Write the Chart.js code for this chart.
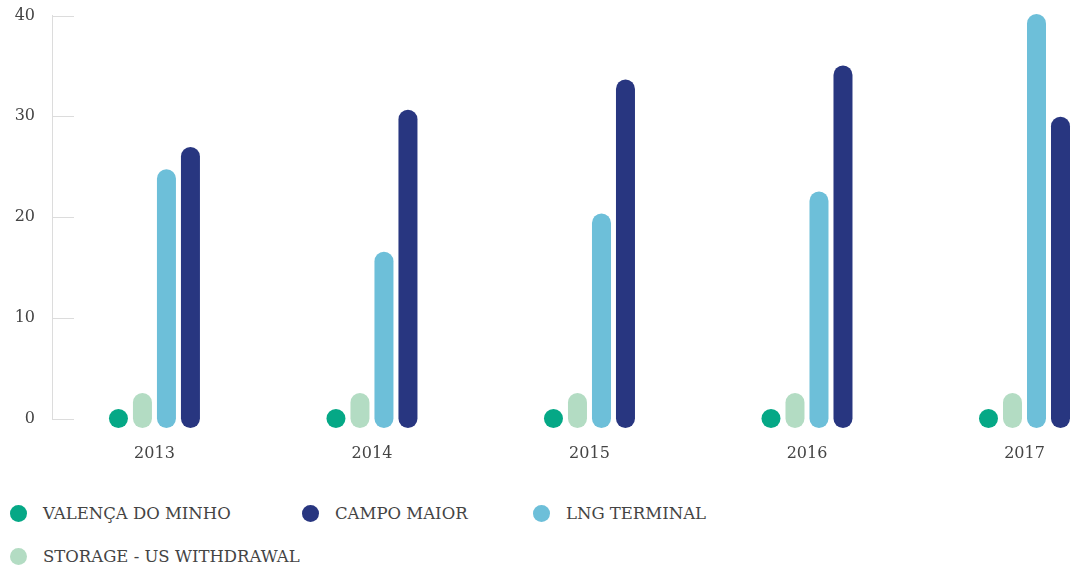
<!DOCTYPE html>
<html>
<head>
<meta charset="utf-8">
<script src="https://cdn.jsdelivr.net/npm/chart.js@4/dist/chart.umd.min.js"></script>
<style>
  html, body { margin: 0; padding: 0; background: #fff; }
  body { width: 1084px; height: 571px; overflow: hidden; font-family: "DejaVu Serif", serif; }
  #wrap { position: relative; width: 1084px; height: 470px; }
  #legend { display: flex; flex-wrap: wrap; width: 790px; margin-top: 22px; margin-left: 10px; }
  .item { display: flex; align-items: center; height: 43px; color: #444; font-size: 16.5px; }
  .dot { width: 17px; height: 17px; border-radius: 50%; margin-right: 16px; flex: none; }
</style>
</head>
<body>
<div id="wrap"><canvas id="chart"></canvas></div>
<div id="legend"></div>
<script>
const years = ['2013', '2014', '2015', '2016', '2017'];
const valenca = [0, 0, 0, 0, 0];
const storage = [1.6, 1.6, 1.6, 1.6, 1.6];
const lng = [23.8, 15.6, 19.4, 21.6, 39.2];
const campoMaior = [26.0, 29.7, 32.7, 34.1, 29.0];

const series = [
  { label: 'VALENÇA DO MINHO', values: valenca, color: '#05a886' },
  { label: 'STORAGE - US WITHDRAWAL', values: storage, color: '#b3dcc3' },
  { label: 'LNG TERMINAL', values: lng, color: '#6dbfd9' },
  { label: 'CAMPO MAIOR', values: campoMaior, color: '#283680' }
];
// order in the legend differs from the bar order
const legendOrder = [0, 3, 2, 1];
const legendWidths = [292, 231, 260, 300];

// bars drawn as thick lines with round caps
const pillBars = {
  id: 'pillBars',
  afterDatasetsDraw(chart) {
    const ctx = chart.ctx;
    ctx.save();
    ctx.lineCap = 'round';
    ctx.lineWidth = 19;
    chart.data.datasets.forEach((ds, i) => {
      const meta = chart.getDatasetMeta(i);
      ctx.strokeStyle = ds.pillColor;
      ctx.fillStyle = ds.pillColor;
      meta.data.forEach(el => {
        if (Math.abs(el.base - el.y) < 0.5) {
          ctx.beginPath();
          ctx.arc(el.x, el.base, 9.5, 0, Math.PI * 2);
          ctx.fill();
        } else {
          ctx.beginPath();
          ctx.moveTo(el.x, el.base);
          ctx.lineTo(el.x, el.y);
          ctx.stroke();
        }
      });
    });
    ctx.restore();
  }
};

// short tick marks to the right of the y axis
const yTicks = {
  id: 'yTicks',
  beforeDatasetsDraw(chart) {
    const { ctx, chartArea, scales } = chart;
    ctx.save();
    ctx.strokeStyle = '#dcdcdc';
    ctx.lineWidth = 1;
    scales.y.ticks.forEach(t => {
      const y = Math.round(scales.y.getPixelForValue(t.value)) + 0.5;
      ctx.beginPath();
      ctx.moveTo(chartArea.left, y);
      ctx.lineTo(chartArea.left + 22, y);
      ctx.stroke();
    });
    ctx.restore();
  }
};

const ctx = document.getElementById('chart').getContext('2d');
new Chart(ctx, {
  type: 'bar',
  data: {
    datasets: series.map(s => ({
      label: s.label,
      data: s.values.map((v, i) => ({ x: i, y: v })),
      backgroundColor: 'rgba(0,0,0,0)',
      borderWidth: 0,
      pillColor: s.color,
      barThickness: 24
    }))
  },
  options: {
    responsive: true,
    maintainAspectRatio: false,
    animation: false,
    layout: { padding: { top: 15.5, right: 16, bottom: 0, left: 0 } },
    plugins: { legend: { display: false }, tooltip: { enabled: false } },
    scales: {
      x: {
        type: 'linear',
        offset: false,
        min: -0.471,
        max: 4.2,
        grid: { display: false, drawTicks: false },
        border: { display: false },
        afterFit: s => { s.height = 51.5; s.paddingLeft = 0; s.paddingRight = 0; },
        ticks: {
          stepSize: 1,
          includeBounds: false,
          autoSkip: false,
          maxRotation: 0,
          padding: 26,
          color: '#444',
          font: { family: 'DejaVu Serif', size: 16 },
          callback: v => years[v] ?? ''
        }
      },
      y: {
        min: 0,
        max: 40,
        grid: { display: false, drawTicks: false },
        border: { display: true, color: '#dcdcdc', width: 1 },
        afterFit: s => { s.width = 52; s.paddingTop = 0; s.paddingBottom = 0; },
        ticks: {
          stepSize: 10,
          padding: 17,
          color: '#444',
          font: { family: 'DejaVu Serif', size: 16 }
        }
      }
    }
  },
  plugins: [yTicks, pillBars]
});

const legend = document.getElementById('legend');
legendOrder.forEach((idx, k) => {
  const s = series[idx];
  const item = document.createElement('div');
  item.className = 'item';
  item.style.width = legendWidths[k] + 'px';
  item.innerHTML = '<span class="dot" style="background:' + s.color + '"></span>' + s.label;
  legend.appendChild(item);
});
</script>
</body>
</html>
